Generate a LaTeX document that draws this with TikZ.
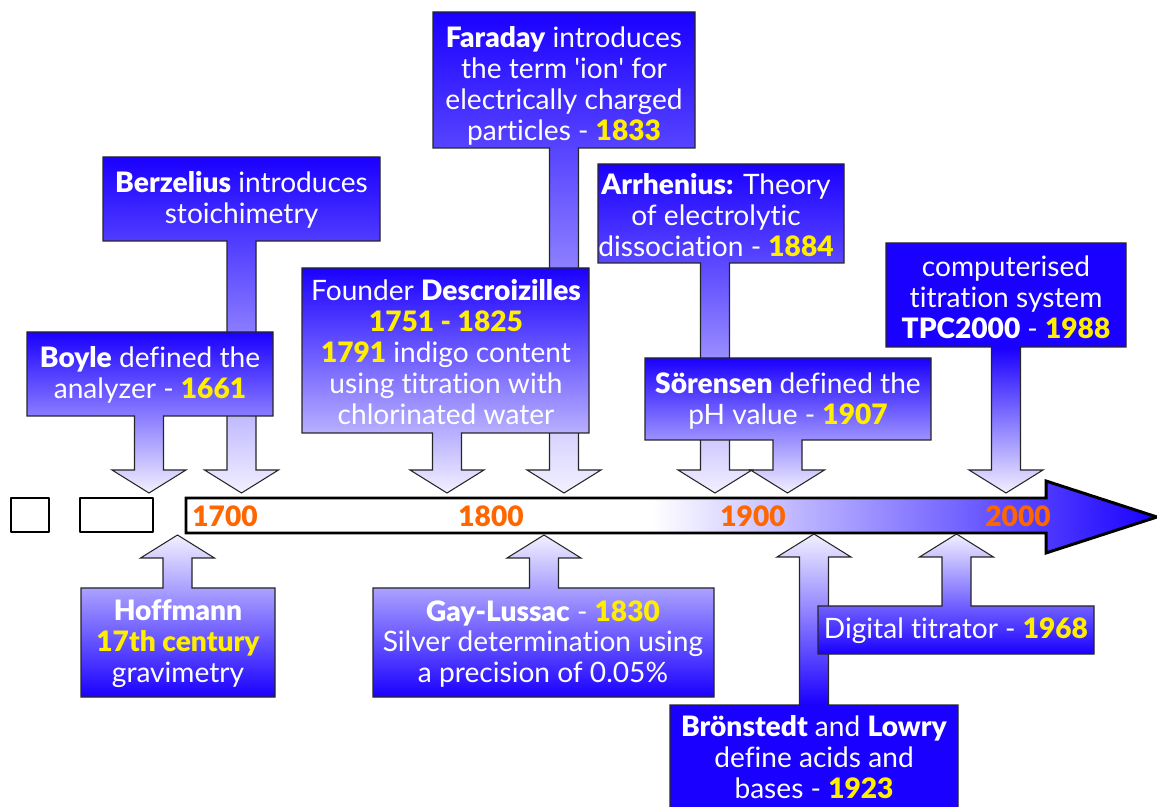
\documentclass[tikz,border=0pt]{standalone}
\usepackage{fontspec}
\setmainfont{Lato}[BoldFont={Lato Black}, Ligatures={NoCommon}]
\definecolor{boxc}{RGB}{26,0,255}
\definecolor{tipc}{RGB}{242,240,255}
\definecolor{yrcol}{RGB}{255,238,0}
\definecolor{tickcol}{RGB}{255,102,0}
% gradients of the callouts and of the time axis
\pgfdeclareverticalshading{calldown}{100bp}{color(0bp)=(tipc); color(25bp)=(tipc); color(75bp)=(boxc); color(100bp)=(boxc)}
\pgfdeclareverticalshading{callup}{100bp}{color(0bp)=(boxc); color(25bp)=(boxc); color(75bp)=(tipc); color(100bp)=(tipc)}
\pgfdeclareverticalshading{calldownlate}{100bp}{color(0bp)=(tipc); color(25bp)=(tipc); color(54bp)=(boxc); color(100bp)=(boxc)}
\pgfdeclareverticalshading{calluplate}{100bp}{color(0bp)=(boxc); color(44bp)=(boxc); color(75bp)=(tipc); color(100bp)=(tipc)}
\pgfdeclarehorizontalshading{timefade}{100bp}{color(0bp)=(white); color(49bp)=(white); color(75bp)=(boxc); color(100bp)=(boxc)}
\newcommand{\yr}[1]{\textcolor{yrcol}{\textbf{#1}}}
% box x1, box x2, far y, near y, stem x, tip y, shading, tip name
\newcommand{\callout}[8]{%
  \pgfmathsetmacro\hb{#6>#4 ? #6-23 : #6+23}
  \shadedraw[shading=#7, callline] (#1,#3) -- (#2,#3) -- (#2,#4) -- (#5+14.5,#4) -- (#5+14.5,\hb) -- (#5+37,\hb)
    -- (#5,#6) coordinate (#8) -- (#5-37,\hb) -- (#5-14.5,\hb) -- (#5-14.5,#4) -- (#1,#4) -- cycle;
}
\tikzset{
  callline/.style={draw=black!85, line width=0.6pt, line join=miter},
  calltext/.style={text=white, align=center, inner sep=0pt, font=\fontsize{16}{17.6}\selectfont},
  yearlabel/.style={text=tickcol, inner sep=0pt, font=\fontsize{16}{16}\selectfont\bfseries},
  blankbox/.style={draw=black, line width=1.7pt, fill=white}
}
\begin{document}
\begin{tikzpicture}[x=0.02cm, y=-0.02cm, line join=round]
\useasboundingbox (0,0) rectangle (1157,807);
% time axis
\draw[blankbox] (11,498) rectangle (49,532);
\draw[blankbox] (80,498) rectangle (153,532);
\shadedraw[shading=timefade, draw=black, line width=1.7pt, line join=miter]
  (186,498) -- (1046,498) -- (1046,481) -- (1157,517) -- (1046,553) -- (1046,533) -- (186,533) -- cycle;
\node[yearlabel] (y1700) at (225,516) {1700};
\node[yearlabel] (y1800) at (491,516) {1800};
\node[yearlabel] (y1900) at (753,516) {1900};
\node[yearlabel] (y2000) at (1018,516) {2000};

% callouts above the axis
\callout{103}{380}{157}{241}{241.5}{493}{calldown}{berzeliustip}
\node[calltext] (berzelius) at (241.5,200) {\textbf{Berzelius} introduces\\stoichimetry};
\callout{27}{273}{332}{416}{149}{493}{calldown}{boyletip}
\node[calltext] (boyle) at (150,375) {\textbf{Boyle} defined the\\analyzer - \yr{1661}};
\callout{433}{695}{12}{148}{564}{493}{calldown}{faradaytip}
\node[calltext] (faraday) at (564,86) {\textbf{Faraday} introduces\\the term \textquotesingle ion\textquotesingle{} for\\electrically charged\\particles - \yr{1833}};
\callout{302}{589}{268}{433}{447}{493}{calldown}{descroizillestip}
\node[calltext] (descroizilles) at (446,352) {Founder \textbf{Descroizilles}\\\yr{1751 - 1825}\\\yr{1791} indigo content\\using titration with\\chlorinated water};
\callout{598}{844}{164}{263}{715}{493}{calldown}{arrheniustip}
\node[calltext] (arrhenius) at (716,215) {\textbf{Arrhenius:} Theory\\of electrolytic\\dissociation - \yr{1884}};
\callout{645}{931}{358}{440}{787.5}{493}{calldown}{sorensentip}
\node[calltext] (sorensen) at (788,401) {\textbf{Sörensen} defined the\\pH value - \yr{1907}};
\callout{886}{1126}{243}{347}{1006}{493}{calldownlate}{tpctip}
\node[calltext] (tpc) at (1006,297) {computerised\\titration system\\\textbf{TPC2000} - \yr{1988}};

% callouts below the axis
\callout{81}{275}{697}{588}{177.5}{535}{callup}{hoffmanntip}
\node[calltext] (hoffmann) at (178,644) {\textbf{Hoffmann}\\\yr{17th century}\\gravimetry};
\callout{373}{714}{697}{588}{544}{535}{callup}{gaylussactip}
\node[calltext] (gaylussac) at (543,644) {\textbf{Gay-Lussac} - \yr{1830}\\Silver determination using\\a precision of 0.05\%};
\callout{670}{958}{809}{705}{814}{534}{calluplate}{bronstedttip}
\node[calltext] (bronstedt) at (814,757) {\textbf{Brönstedt} and \textbf{Lowry}\\define acids and\\bases - \yr{1923}};
\callout{818}{1094}{654}{606}{956.5}{534}{callup}{digitaltip}
\node[calltext] (digital) at (956,631) {Digital titrator - \yr{1968}};
\end{tikzpicture}
\end{document}
